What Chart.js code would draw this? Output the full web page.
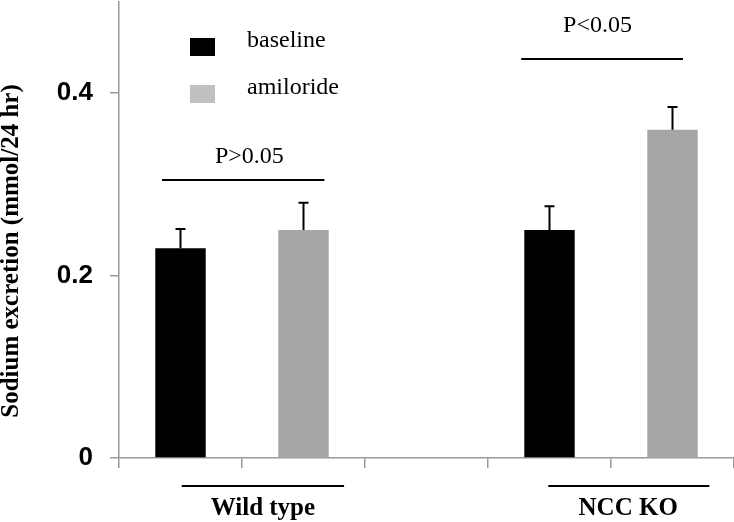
<!DOCTYPE html>
<html>
<head>
<meta charset="utf-8">
<script src="https://cdn.jsdelivr.net/npm/chart.js@4.4.0/dist/chart.umd.min.js"></script>
<style>
  html, body { margin: 0; padding: 0; background: #fff; }
</style>
</head>
<body>
<canvas id="chart" width="734" height="522"></canvas>
<script>
// Five slots on the x axis; the middle one is the empty gap between the two groups.
const slots = ['WT baseline', 'WT amiloride', '', 'NCC KO baseline', 'NCC KO amiloride'];
const seriesNames = ['baseline', 'amiloride'];
const baselineValues = [0.23, null, null, 0.25, null];
const amilorideValues = [null, 0.25, null, null, 0.36];
const baselineErrors = [0.021, null, null, 0.026, null];
const amilorideErrors = [null, 0.03, null, null, 0.025];
const yTicks = [0, 0.2, 0.4];
const groupLabels = ['Wild type', 'NCC KO'];
const pLabels = ['P>0.05', 'P<0.05'];

const serif = '"Liberation Serif", "Times New Roman", serif';
const axisGray = '#9a9a9a';

// Up-only error bars on top of each bar.
const errorBars = {
    id: 'errorBars',
    afterDatasetsDraw(chart) {
        let ctx = chart.ctx, y = chart.scales.y;
        ctx.save();
        ctx.strokeStyle = '#000';
        ctx.lineWidth = 2;
        chart.data.datasets.forEach((ds, i) => {
            let meta = chart.getDatasetMeta(i);
            ds.errors.forEach((e, j) => {
                if (e == null || ds.data[j] == null) return;
                let bar = meta.data[j];
                let top = y.getPixelForValue(ds.data[j] + e);
                ctx.beginPath();
                ctx.moveTo(bar.x, bar.y);
                ctx.lineTo(bar.x, top);
                ctx.moveTo(bar.x - 5, top);
                ctx.lineTo(bar.x + 5, top);
                ctx.stroke();
            });
        });
        ctx.restore();
    }
};

// Legend, significance brackets, group labels and the y title.
const annotations = {
    id: 'annotations',
    afterDraw(chart) {
        let ctx = chart.ctx, x = chart.scales.x, y = chart.scales.y, area = chart.chartArea;
        ctx.save();
        ctx.fillStyle = '#000';
        ctx.strokeStyle = '#000';
        ctx.lineWidth = 2;

        // significance brackets (positions in slot units / data units)
        let brackets = [
            { text: pLabels[0], from: -0.15, to: 1.17, lineY: 0.305, textX: 0.56, textY: 0.33 },
            { text: pLabels[1], from: 2.77, to: 4.085, lineY: 0.438, textX: 3.39, textY: 0.4745 }
        ];
        ctx.font = '24px ' + serif;
        ctx.textAlign = 'center';
        ctx.textBaseline = 'middle';
        brackets.forEach(b => {
            let ly = Math.round(y.getPixelForValue(b.lineY));
            ctx.beginPath();
            ctx.moveTo(x.getPixelForValue(b.from), ly);
            ctx.lineTo(x.getPixelForValue(b.to), ly);
            ctx.stroke();
            ctx.fillText(b.text, x.getPixelForValue(b.textX), y.getPixelForValue(b.textY));
        });

        // group labels under the axis
        let groups = [
            { text: groupLabels[0], from: 0.01, to: 1.33, at: 0.67 },
            { text: groupLabels[1], from: 2.99, to: 4.30, at: 3.64 }
        ];
        ctx.font = 'bold 25px ' + serif;
        groups.forEach(g => {
            let ly = area.bottom + 28;
            ctx.beginPath();
            ctx.moveTo(x.getPixelForValue(g.from), ly);
            ctx.lineTo(x.getPixelForValue(g.to), ly);
            ctx.stroke();
            ctx.fillText(g.text, x.getPixelForValue(g.at), area.bottom + 51);
        });

        // legend
        ctx.font = '24px ' + serif;
        ctx.textAlign = 'left';
        chart.data.datasets.forEach((ds, i) => {
            let bx = area.left + 71, by = 38 + i * 47;
            ctx.fillStyle = ds.legendColor;
            ctx.fillRect(bx, by, 25, 18);
            ctx.fillStyle = '#000';
            ctx.fillText(ds.label, area.left + 128, by + 3);
        });

        // y axis title
        ctx.font = 'bold 25px ' + serif;
        ctx.textAlign = 'center';
        ctx.translate(12, 251);
        ctx.rotate(-Math.PI / 2);
        ctx.fillText('Sodium excretion (mmol/24 hr)', 0, 0);
        ctx.restore();
    }
};

new Chart(document.getElementById('chart').getContext('2d'), {
    type: 'bar',
    data: {
        labels: slots,
        datasets: [
            { label: seriesNames[0], data: baselineValues, errors: baselineErrors,
              backgroundColor: '#000000', legendColor: '#000000' },
            { label: seriesNames[1], data: amilorideValues, errors: amilorideErrors,
              backgroundColor: '#a6a6a6', legendColor: '#c0c0c0' }
        ]
    },
    options: {
        responsive: false,
        animation: false,
        devicePixelRatio: 1,
        skipNull: true,
        categoryPercentage: 1,
        barPercentage: 0.41,
        layout: { padding: { top: 2, right: 0, left: 0, bottom: 0 } },
        plugins: {
            legend: { display: false },
            tooltip: { enabled: false }
        },
        scales: {
            x: {
                offset: true,
                grid: { offset: true, drawOnChartArea: false, tickLength: 10, color: axisGray, lineWidth: 1.5 },
                border: { color: axisGray, width: 1.5 },
                ticks: { display: false },
                afterFit: s => { s.height = 64; s.paddingLeft = 0; s.paddingRight = 0; }
            },
            y: {
                min: 0,
                max: 0.5,
                afterBuildTicks: s => { s.ticks = yTicks.map(v => ({ value: v })); },
                grid: { drawOnChartArea: false, tickLength: 9, color: axisGray, lineWidth: 1.5 },
                border: { color: axisGray, width: 1.5 },
                ticks: {
                    padding: 17,
                    color: '#000',
                    font: { family: '"Liberation Sans", Arial, sans-serif', size: 26, weight: 'bold' },
                    callback: v => String(v)
                },
                afterFit: s => { s.width = 119; s.paddingTop = 0; s.paddingBottom = 0; }
            }
        }
    },
    plugins: [errorBars, annotations]
});
</script>
</body>
</html>
